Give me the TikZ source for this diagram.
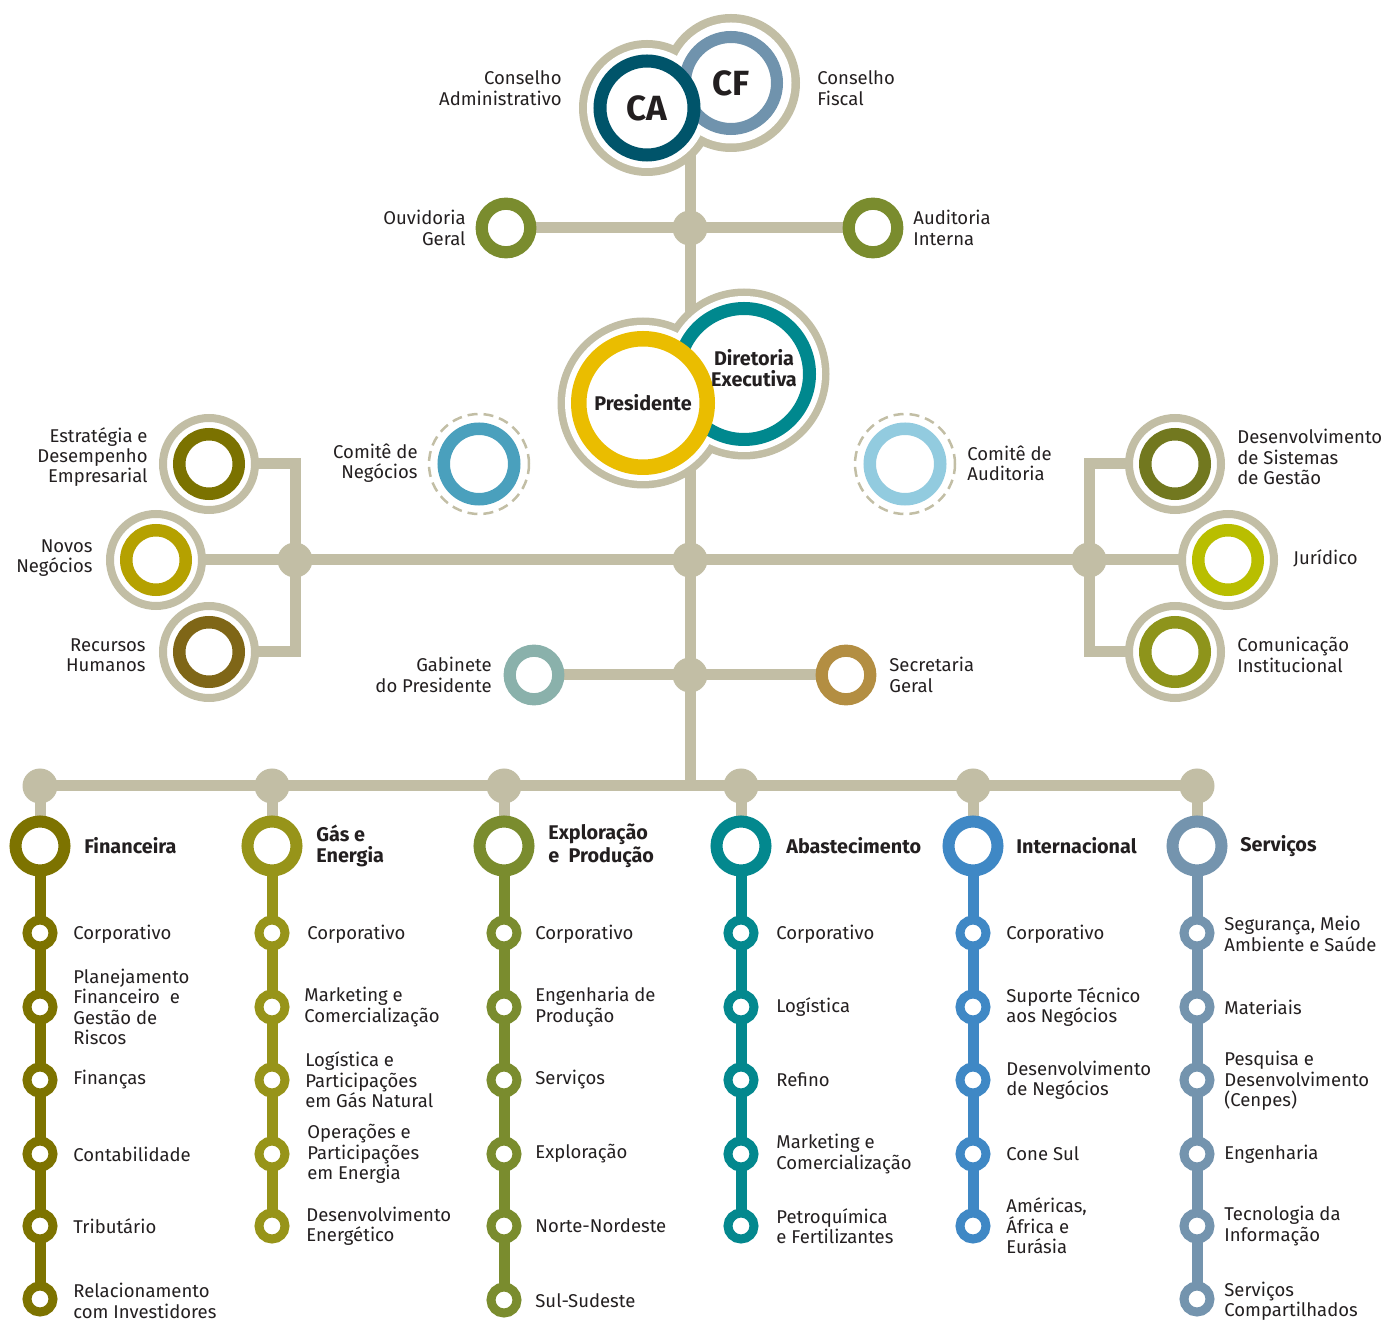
\documentclass[tikz,border=0pt]{standalone}
\usepackage{fontspec}
\setmainfont{Fira Sans}
\pgfdeclarelayer{bg}
\pgfsetlayers{bg,main}
\definecolor{lg}{HTML}{C2BEA5}
\definecolor{tx}{HTML}{231F20}
\definecolor{caC}{HTML}{00546A}
\definecolor{cfC}{HTML}{7093AD}
\definecolor{preC}{HTML}{EABD00}
\definecolor{dirC}{HTML}{00888E}
\definecolor{ouvC}{HTML}{7A8C2E}
\definecolor{estC}{HTML}{7B7200}
\definecolor{nnC}{HTML}{B5A100}
\definecolor{rhC}{HTML}{7F6617}
\definecolor{dssC}{HTML}{72781F}
\definecolor{jurC}{HTML}{B9BE00}
\definecolor{comC}{HTML}{8E941B}
\definecolor{cnC}{HTML}{4AA0BD}
\definecolor{caudC}{HTML}{92CBDF}
\definecolor{gabC}{HTML}{8AB1AB}
\definecolor{secC}{HTML}{B38E42}
\definecolor{finC}{HTML}{7D7300}
\definecolor{gasC}{HTML}{979419}
\definecolor{epC}{HTML}{7A8C2E}
\definecolor{abC}{HTML}{03888E}
\definecolor{intC}{HTML}{3F88C5}
\definecolor{serC}{HTML}{7494AE}
\newcommand\txfont{\fontsize{9.25pt}{10.2pt}\selectfont}
\newcommand\bdfont{\fontsize{9.9pt}{10.2pt}\selectfont\bfseries}
\newcommand\ctfont{\fontsize{17.5pt}{18pt}\selectfont\bfseries}
\tikzset{
  gline/.style={draw=lg, line width=5.5pt},
  cline/.style={draw=#1, line width=5.5pt},
  jdot/.style={circle, fill=lg, inner sep=0pt, minimum size=17.5pt},
  ringbase/.style={circle, fill=white, inner sep=0pt, outer sep=0pt},
  headring/.style={ringbase, draw=#1, line width=6pt, minimum size=24.5pt},
  stn/.style={ringbase, draw=#1, line width=4.5pt, minimum size=13pt},
  sidering/.style={ringbase, draw=#1, line width=6.25pt, minimum size=29.75pt},
  halo/.style={ringbase, draw=lg, line width=4pt, minimum size=46pt},
  midring/.style={ringbase, draw=#1, line width=6.1pt, minimum size=24.3pt},
  comring/.style={ringbase, draw=#1, line width=6.25pt, minimum size=35.25pt},
  dashring/.style={circle, draw=lg, line width=1.25pt, dash pattern=on 5pt off 3pt, minimum size=50pt, inner sep=0pt},
  lbl/.style={text=tx, font=\txfont, inner sep=0pt},
  lblL/.style={lbl, anchor=west, align=left},
  lblR/.style={lbl, anchor=east, align=right},
  hdlbl/.style={lblL, font=\bdfont},
}
\begin{document}
\begin{tikzpicture}[x=0.5pt,y=-0.5pt]
\useasboundingbox (0,0) rectangle (1383,1320);

% ---------- top: CA / CF ----------
\fill[lg] (731,83) circle (34.5pt);
\fill[lg] (647,108) circle (34pt);
\fill[white] (731,83) circle (30.25pt);
\fill[white] (647,108) circle (30pt);
\node[ringbase, draw=cfC, line width=6pt, minimum size=46pt, font=\ctfont, text=tx] (cf) at (731,83) {CF};
\node[ringbase, draw=caC, line width=6.5pt, minimum size=47pt, font=\ctfont, text=tx] (ca) at (647,108) {CA};
\node[lblR] (tca) at (562,88) {Conselho\\Administrativo};
\node[lblL] (tcf) at (817,88) {Conselho\\Fiscal};

% ---------- Presidente / Diretoria ----------
\fill[lg] (744,374) circle (42.75pt);
\fill[lg] (643,403) circle (42.75pt);
\fill[white] (744,374) circle (39pt);
\fill[white] (643,403) circle (39pt);
\node[ringbase, draw=dirC, line width=6.5pt, minimum size=65.5pt] (dir) at (744,374) {};
\node[ringbase, draw=preC, line width=7.75pt, minimum size=64.25pt, font=\bdfont, text=tx] (pres) at (643,403) {Presidente};
\node[lbl, font=\bdfont, align=center] (tdir) at (754,368) {Diretoria\\Executiva};

% ---------- junctions ----------
\coordinate (vtop) at (690,120);
\coordinate (jb) at (690,786);
\node[jdot] (jo) at (690,228) {};
\node[jdot] (jm) at (690,560) {};
\node[jdot] (jg) at (690,675) {};
\node[jdot] (jl) at (295,560) {};
\node[jdot] (jr) at (1089,560) {};

% ---------- Ouvidoria / Auditoria ----------
\node[midring=ouvC] (ouv) at (506,228) {};
\node[midring=ouvC] (aud) at (873,228) {};
\node[lblR] (touv) at (466,228) {Ouvidoria\\Geral};
\node[lblL] (taud) at (913,228) {Auditoria\\Interna};

% ---------- left side ----------
\node[halo] (hest) at (209,464) {};
\node[sidering=estC] (est) at (209,464) {};
\node[halo] (hnn) at (156,560) {};
\node[sidering=nnC] (nn) at (156,560) {};
\node[halo] (hrh) at (209,652) {};
\node[sidering=rhC] (rh) at (209,652) {};
\node[lblR] (test) at (148,457) {Estratégia e\\Desempenho\\Empresarial};
\node[lblR] (tnn) at (93,558) {Novos\\Negócios};
\node[lblR] (trh) at (146,655) {Recursos\\Humanos};

% ---------- right side ----------
\node[halo] (hdss) at (1175,464) {};
\node[sidering=dssC] (dss) at (1175,464) {};
\node[halo] (hjur) at (1228,560) {};
\node[sidering=jurC] (jur) at (1228,560) {};
\node[halo] (hcom) at (1175,652) {};
\node[sidering=comC] (com) at (1175,652) {};
\node[lblL] (tdss) at (1237,457) {Desenvolvimento\\de Sistemas\\de Gestão};
\node[lblL] (tjur) at (1293,558) {Jurídico};
\node[lblL] (tcom) at (1237,655) {Comunicação\\Institucional};

% ---------- comitês ----------
\node[dashring] (dcn) at (479,464) {};
\node[comring=cnC] (cn) at (479,464) {};
\node[lblR] (tcn) at (418,463) {Comitê de\\Negócios};
\node[dashring] (dcau) at (905,464) {};
\node[comring=caudC] (cau) at (905,464) {};
\node[lblL] (tcau) at (967,463) {Comitê de\\Auditoria};

% ---------- Gabinete / Secretaria ----------
\node[midring=gabC] (gab) at (534,675) {};
\node[midring=secC] (sec) at (846,675) {};
\node[lblR] (tgab) at (492,675) {Gabinete\\do Presidente};
\node[lblL] (tsec) at (889,675) {Secretaria\\Geral};

% ---------- bottom dots ----------
\node[jdot] (d1) at (40,786) {};
\node[jdot] (d2) at (272,786) {};
\node[jdot] (d3) at (504,786) {};
\node[jdot] (d4) at (741,786) {};
\node[jdot] (d5) at (973,786) {};
\node[jdot] (d6) at (1197,786) {};

% ---------- column 1: Financeira ----------
\node[headring=finC] (h1) at (40,846) {};
\node[hdlbl] (th1) at (84,846) {Financeira};
\node[stn=finC] (s11) at (40,933) {};
\node[stn=finC] (s12) at (40,1007) {};
\node[stn=finC] (s13) at (40,1080) {};
\node[stn=finC] (s14) at (40,1154) {};
\node[stn=finC] (s15) at (40,1226) {};
\node[stn=finC] (s16) at (40,1299) {};
\node[lblL] (t11) at (73,934) {Corporativo};
\node[lblL] (t12) at (73,1007) {Planejamento\\Financeiro\ \ e\\Gestão de\\Riscos};
\node[lblL] (t13) at (73,1080) {Finanças};
\node[lblL] (t14) at (73,1154) {Contabilidade};
\node[lblL] (t15) at (73,1226) {Tributário};
\node[lblL] (t16) at (73,1301) {Relacionamento\\com Investidores};

% ---------- column 2: Gás e Energia ----------
\node[headring=gasC] (h2) at (272,846) {};
\node[hdlbl] (th2) at (316,846) {Gás e\\Energia};
\node[stn=gasC] (s21) at (272,933) {};
\node[stn=gasC] (s22) at (272,1007) {};
\node[stn=gasC] (s23) at (272,1080) {};
\node[stn=gasC] (s24) at (272,1154) {};
\node[stn=gasC] (s25) at (272,1226) {};
\node[lblL] (t21) at (307,934) {Corporativo};
\node[lblL] (t22) at (304,1007) {Marketing e\\Comercialização};
\node[lblL] (t23) at (305,1080) {Logística e\\Participações\\em Gás Natural};
\node[lblL] (t24) at (307,1154) {Operações e\\Participações\\em Energia};
\node[lblL] (t25) at (306,1226) {Desenvolvimento\\Energético};

% ---------- column 3: Exploração e Produção ----------
\node[headring=epC] (h3) at (504,846) {};
\node[hdlbl] (th3) at (548,846) {Exploração\\e\ \ Produção};
\node[stn=epC] (s31) at (504,933) {};
\node[stn=epC] (s32) at (504,1007) {};
\node[stn=epC] (s33) at (504,1080) {};
\node[stn=epC] (s34) at (504,1154) {};
\node[stn=epC] (s35) at (504,1226) {};
\node[stn=epC] (s36) at (504,1300) {};
\node[lblL] (t31) at (535,934) {Corporativo};
\node[lblL] (t32) at (535,1007) {Engenharia de\\Produção};
\node[lblL] (t33) at (535,1080) {Serviços};
\node[lblL] (t34) at (535,1154) {Exploração};
\node[lblL] (t35) at (535,1226) {Norte-Nordeste};
\node[lblL] (t36) at (535,1301) {Sul-Sudeste};

% ---------- column 4: Abastecimento ----------
\node[headring=abC] (h4) at (741,846) {};
\node[hdlbl] (th4) at (786,846) {Abastecimento};
\node[stn=abC] (s41) at (741,933) {};
\node[stn=abC] (s42) at (741,1007) {};
\node[stn=abC] (s43) at (741,1080) {};
\node[stn=abC] (s44) at (741,1154) {};
\node[stn=abC] (s45) at (741,1226) {};
\node[lblL] (t41) at (776,934) {Corporativo};
\node[lblL] (t42) at (776,1007) {Logística};
\node[lblL] (t43) at (776,1080) {Refino};
\node[lblL] (t44) at (776,1154) {Marketing e\\Comercialização};
\node[lblL] (t45) at (776,1226) {Petroquímica\\e Fertilizantes};

% ---------- column 5: Internacional ----------
\node[headring=intC] (h5) at (973,846) {};
\node[hdlbl] (th5) at (1016,846) {Internacional};
\node[stn=intC] (s51) at (973,933) {};
\node[stn=intC] (s52) at (973,1007) {};
\node[stn=intC] (s53) at (973,1080) {};
\node[stn=intC] (s54) at (973,1154) {};
\node[stn=intC] (s55) at (973,1226) {};
\node[lblL] (t51) at (1006,934) {Corporativo};
\node[lblL] (t52) at (1006,1007) {Suporte Técnico\\aos Negócios};
\node[lblL] (t53) at (1006,1080) {Desenvolvimento\\de Negócios};
\node[lblL] (t54) at (1006,1154) {Cone Sul};
\node[lblL] (t55) at (1006,1226) {Américas,\\África e\\Eurásia};

% ---------- column 6: Serviços ----------
\node[headring=serC] (h6) at (1197,846) {};
\node[hdlbl] (th6) at (1240,846) {Serviços};
\node[stn=serC] (s61) at (1197,933) {};
\node[stn=serC] (s62) at (1197,1007) {};
\node[stn=serC] (s63) at (1197,1080) {};
\node[stn=serC] (s64) at (1197,1154) {};
\node[stn=serC] (s65) at (1197,1226) {};
\node[stn=serC] (s66) at (1197,1299) {};
\node[lblL] (t61) at (1224,934) {Segurança, Meio\\Ambiente e Saúde};
\node[lblL] (t62) at (1224,1007) {Materiais};
\node[lblL] (t63) at (1224,1081) {Pesquisa e\\Desenvolvimento\\(Cenpes)};
\node[lblL] (t64) at (1224,1154) {Engenharia};
\node[lblL] (t65) at (1224,1226) {Tecnologia da\\Informação};
\node[lblL] (t66) at (1224,1301) {Serviços\\Compartilhados};

% ---------- connectors (behind) ----------
\begin{pgfonlayer}{bg}
\draw[gline] (vtop) -- (jb);
\draw[gline] (ouv.center) -- (aud.center);
\draw[gline] (jl.center) -- (jr.center);
\draw[gline] (est.center) -| (jl.center) |- (rh.center);
\draw[gline] (nn.center) -- (jl.center);
\draw[gline] (dss.center) -| (jr.center) |- (com.center);
\draw[gline] (jur.center) -- (jr.center);
\draw[gline] (gab.center) -- (sec.center);
\draw[gline] (d1.center) -- (d6.center);
\foreach \d/\h in {d1/h1,d2/h2,d3/h3,d4/h4,d5/h5,d6/h6}
  \draw[gline] (\d.center) -- (\h.center);
\draw[cline=finC] (h1.center) -- (s16.center);
\draw[cline=gasC] (h2.center) -- (s25.center);
\draw[cline=epC] (h3.center) -- (s36.center);
\draw[cline=abC] (h4.center) -- (s45.center);
\draw[cline=intC] (h5.center) -- (s55.center);
\draw[cline=serC] (h6.center) -- (s66.center);
\end{pgfonlayer}
\end{tikzpicture}
\end{document}
